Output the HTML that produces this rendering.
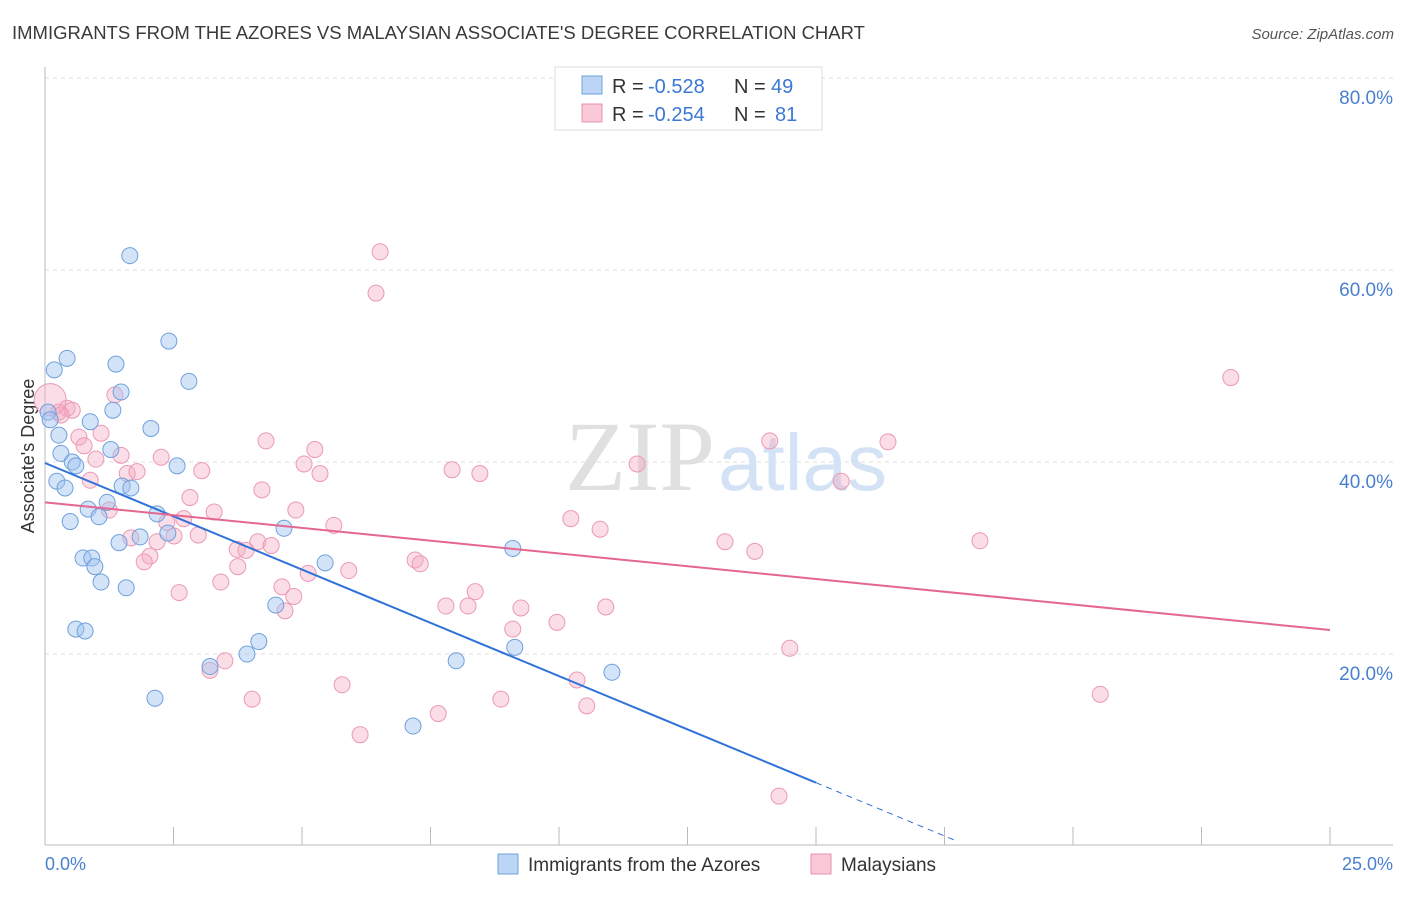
<!DOCTYPE html>
<html><head><meta charset="utf-8"><style>
body{margin:0;background:#fff;width:1406px;height:892px;overflow:hidden;font-family:"Liberation Sans",sans-serif}
</style></head><body>
<svg id="chart" width="1406" height="892" xmlns="http://www.w3.org/2000/svg">
<text x="12" y="39" font-size="18.5" fill="#3a3a3a">IMMIGRANTS FROM THE AZORES VS MALAYSIAN ASSOCIATE'S DEGREE CORRELATION CHART</text>
<text x="1394" y="39" font-size="15" fill="#555" text-anchor="end" font-style="italic">Source: ZipAtlas.com</text>
<g id="grid"></g>
<text x="715" y="490" font-size="100" fill="#e0e0e0" text-anchor="end" font-family="Liberation Serif,serif">ZIP</text>
<text x="718" y="490" font-size="80" fill="#d3e2f4">atlas</text>
<line x1="45" y1="67" x2="45" y2="845" stroke="#bbb"/>
<line x1="45" y1="845" x2="1393" y2="845" stroke="#bbb"/>
<g id="ticks"></g>
<text x="34" y="456" font-size="18" fill="#333" text-anchor="middle" transform="rotate(-90 34 456)">Associate's Degree</text>
<text x="45" y="870" font-size="18" fill="#4a80d0">0.0%</text>
<text x="1393" y="870" font-size="18" fill="#4a80d0" text-anchor="end">25.0%</text>
<g id="pink"></g><g id="blue"></g><g id="lines"></g>
<g>
<rect x="555" y="67" width="267" height="63" fill="#fff" stroke="#ddd"/>
<rect x="582" y="76" width="20" height="18" fill="#bcd5f5" stroke="#6fa0dc"/>
<rect x="582" y="104" width="20" height="18" fill="#f9c9d8" stroke="#e890aa"/>
<text x="612" y="93" font-size="20" fill="#333">R =</text>
<text x="648" y="93" font-size="20" fill="#3a78d4">-0.528</text>
<text x="734" y="93" font-size="20" fill="#333">N =</text>
<text x="771" y="93" font-size="20" fill="#3a78d4">49</text>
<text x="612" y="121" font-size="20" fill="#333">R =</text>
<text x="648" y="121" font-size="20" fill="#3a78d4">-0.254</text>
<text x="734" y="121" font-size="20" fill="#333">N =</text>
<text x="775" y="121" font-size="20" fill="#3a78d4">81</text>
</g>
<rect x="498" y="854" width="20" height="20" fill="#bcd5f5" stroke="#6fa0dc"/>
<text x="528" y="871" font-size="19" fill="#333">Immigrants from the Azores</text>
<rect x="811" y="854" width="20" height="20" fill="#f9c9d8" stroke="#e890aa"/>
<text x="841" y="871" font-size="19" fill="#333">Malaysians</text>
</svg>
<script>
const yTicks=[20,40,60,80];
const yTickLabels=["20.0%","40.0%","60.0%","80.0%"];
const blueX=[1.65,2.41,0.43,1.38,0.18,2.80,1.48,1.32,0.06,0.10,0.88,2.06,0.27,1.28,0.31,0.53,0.60,2.57,0.23,0.39,1.50,1.67,1.21,0.84,2.18,1.05,0.49,4.65,2.39,1.85,1.44,9.10,0.74,0.91,5.45,0.97,1.09,1.58,4.49,0.60,0.78,4.16,3.93,9.14,8.00,3.21,11.03,2.14,7.16];
const blueY=[61.6,52.7,50.9,50.3,49.7,48.5,47.4,45.5,45.3,44.5,44.3,43.6,42.9,41.4,41.0,40.1,39.7,39.7,38.1,37.4,37.6,37.4,35.9,35.2,34.7,34.4,33.9,33.2,32.7,32.3,31.7,31.1,30.1,30.1,29.6,29.2,27.6,27.0,25.2,22.7,22.5,21.4,20.1,20.8,19.4,18.8,18.2,15.5,12.6];
const pinkX=[6.52,6.44,23.07,0.27,0.43,0.53,1.36,0.31,4.30,14.1,16.4,0.66,1.09,0.76,5.25,1.48,0.99,2.26,5.04,11.52,3.05,7.92,8.46,1.60,1.79,5.35,0.88,15.49,4.22,2.82,4.88,1.25,3.29,2.70,10.23,5.62,2.37,10.80,2.98,2.51,1.67,2.18,13.23,18.19,4.14,4.40,3.74,3.91,13.81,2.04,1.93,7.20,7.30,3.75,5.91,5.12,3.42,4.61,8.37,2.61,4.84,7.80,8.23,9.26,10.91,4.67,9.96,9.10,14.49,3.50,3.21,10.35,5.78,20.53,4.03,8.87,10.54,7.65,6.13,14.28];
const pinkY=[62.0,57.7,48.9,45.3,45.7,45.5,47.1,45.0,42.3,42.3,42.2,42.7,43.1,41.8,41.4,40.8,40.4,40.6,39.9,39.9,39.2,39.3,38.9,38.9,39.1,38.9,38.2,38.1,37.2,36.4,35.1,35.1,34.9,34.2,34.2,33.5,33.8,33.1,32.5,32.4,32.2,31.8,31.8,31.9,31.8,31.4,31.0,30.9,30.8,30.3,29.7,29.9,29.5,29.2,28.8,28.5,27.6,27.1,26.6,26.5,26.1,25.1,25.1,24.9,25.0,24.6,23.4,22.7,20.7,19.4,18.4,17.4,16.9,15.9,15.4,15.4,14.7,13.9,11.7,5.3];
const bigPink=[0.10,46.6];
const blueTrend=[40.0,-2.22];
const pinkTrend=[35.9,-0.532];
const NS="http://www.w3.org/2000/svg";
const sx=v=>45+v*51.4, sy=v=>847-v*9.6;
function mk(p,t,a){const e=document.createElementNS(NS,t);for(const k in a)e.setAttribute(k,a[k]);document.getElementById(p).appendChild(e);return e;}
yTicks.forEach((t,i)=>{
 const l=mk('grid','line',{x1:45,x2:1393,y1:sy(t)-1,y2:sy(t)-1,stroke:'#ddd','stroke-dasharray':'4,4'});
 
 
 const tx=mk('grid','text',{x:1393,y:sy(t)+25,'font-size':19,fill:'#4a80d0','text-anchor':'end'});
 tx.textContent=yTickLabels[i];
 
 
});
for(let i=0;i<=10;i++){
 const l=mk('ticks','line',{x1:sx(i*2.5),x2:sx(i*2.5),y1:827,y2:845,stroke:'#bbb'});
 
 
}
pinkX.forEach((x,i)=>{
 const c=mk('pink','circle',{cx:sx(x),cy:sy(pinkY[i]),r:8,fill:'rgba(244,170,196,0.4)',stroke:'#eb99b5','stroke-width':1});
 
 
});
const bp=mk('pink','circle',{cx:sx(bigPink[0]),cy:sy(bigPink[1]),r:16,fill:'rgba(244,170,196,0.4)',stroke:'#eb99b5'});


blueX.forEach((x,i)=>{
 const c=mk('blue','circle',{cx:sx(x),cy:sy(blueY[i]),r:8,fill:'rgba(160,196,240,0.45)',stroke:'#6fa0dc','stroke-width':1});
 
 
});
const bt=x=>blueTrend[0]+blueTrend[1]*x, pt=x=>pinkTrend[0]+pinkTrend[1]*x;
const l1=mk('lines','line',{x1:sx(0),y1:sy(bt(0)),x2:sx(15),y2:sy(bt(15)),stroke:'#2f72d8','stroke-width':2});


const l2=mk('lines','line',{x1:sx(15),y1:sy(bt(15)),x2:sx(17.7),y2:sy(bt(17.7)),stroke:'#2f72d8','stroke-width':1,'stroke-dasharray':'6,5'});


const l3=mk('lines','line',{x1:sx(0),y1:sy(pt(0)),x2:sx(25),y2:sy(pt(25)),stroke:'#e5678f','stroke-width':2});


</script>
</body></html>
